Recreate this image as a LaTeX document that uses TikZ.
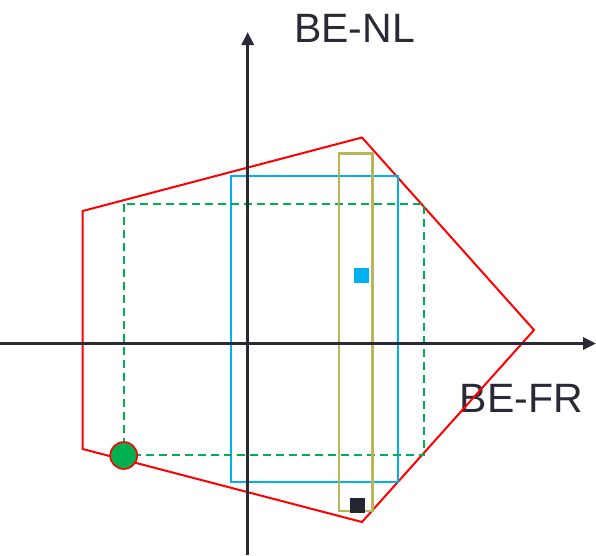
\documentclass[tikz,border=0pt]{standalone}
\usepackage{fontspec}
\setmainfont{Liberation Sans}
\usetikzlibrary{arrows.meta}
\definecolor{axiscol}{HTML}{2A2A36}
\definecolor{redc}{HTML}{FF0000}
\definecolor{cyanc}{HTML}{00B0F0}
\definecolor{olivec}{HTML}{B8B55A}
\definecolor{greenc}{HTML}{00B050}
\definecolor{darkc}{HTML}{262630}
\tikzset{
  axisline/.style={draw=axiscol, line width=3.2pt, -{Triangle[length=13pt,width=12pt]}},
  axislabel/.style={anchor=base west, inner sep=0pt, font=\fontsize{41}{41}\selectfont, text=axiscol},
  redpoly/.style={draw=redc, line width=2pt, line join=miter},
  cyanbox/.style={draw=cyanc, line width=2pt},
  olivebox/.style={draw=olivec, line width=2.4pt},
  greenbox/.style={draw=greenc, line width=2pt, dash pattern=on 8pt off 5pt},
  marksq/.style={minimum size=15pt, inner sep=0pt, draw=none},
}
\begin{document}
\begin{tikzpicture}[x=1pt,y=-1pt]
\useasboundingbox (0,0) rectangle (596,555);
% labels
\node[axislabel] (nl) at (294,42) {BE-NL};
\node[axislabel] (fr) at (459.5,412.7) {BE-FR};
% red pentagon
\coordinate (p1) at (82.7,211);
\coordinate (p2) at (362,137.5);
\coordinate (p3) at (534,330);
\coordinate (p4) at (362,522);
\coordinate (p5) at (82.7,449);
\draw[redpoly] (p1) -- (p2) -- (p3) -- (p4) -- (p5) -- cycle;
% cyan rectangle
\draw[cyanbox] (231,176.3) rectangle (397.7,481.5);
% green dashed rectangle
\draw[greenbox] (123.7,204) rectangle (424.3,455);
% olive rectangle
\draw[olivebox] (338.7,153.3) rectangle (372.3,511);
% axes
\coordinate (xs) at (0,343.5);
\coordinate (xe) at (596,343.5);
\coordinate (ys) at (247.7,555);
\coordinate (ye) at (247.7,32);
\draw[axisline] (xs) -- (xe);
\draw[axisline] (ys) -- (ye);
% markers
\node[marksq, fill=cyanc] (cy) at (361.5,275.5) {};
\node[marksq, fill=darkc] (bk) at (357.5,505.2) {};
\node[circle, fill=greenc, draw=redc, line width=1.6pt, minimum size=27pt, inner sep=0pt] (gc) at (123.7,455.5) {};
\end{tikzpicture}
\end{document}
